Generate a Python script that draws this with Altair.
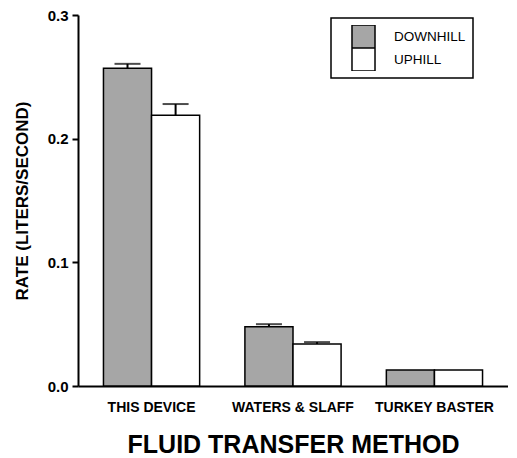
import altair as alt
import pandas as pd

methods = ["THIS DEVICE", "WATERS & SLAFF", "TURKEY BASTER"]
conditions = ["DOWNHILL", "UPHILL"]
downhill = [0.257, 0.048, 0.013]
uphill = [0.219, 0.034, 0.013]
downhill_err = [0.0035, 0.002, 0.0]
uphill_err = [0.009, 0.0015, 0.0]

rows = []
for i, m in enumerate(methods):
    rows.append({"method": m, "condition": "DOWNHILL", "rate": downhill[i], "err": downhill_err[i]})
    rows.append({"method": m, "condition": "UPHILL", "rate": uphill[i], "err": uphill_err[i]})
df = pd.DataFrame(rows)
df["upper"] = df["rate"] + df["err"]

FONT = "Liberation Sans"

x_enc = alt.X(
    "method:N",
    sort=methods,
    scale=alt.Scale(paddingInner=0.32, paddingOuter=0.18),
    axis=alt.Axis(
        title="FLUID TRANSFER METHOD",
        labelAngle=0,
        ticks=False,
        labelPadding=14,
        labelFontSize=14,
        labelFontWeight="bold",
        titleFontSize=25,
        titleFontWeight="bold",
        titlePadding=18,
        domainWidth=2,
    ),
)
xoff = alt.XOffset("condition:N", sort=conditions, scale=alt.Scale(paddingInner=0, paddingOuter=0))

y_enc = alt.Y(
    "rate:Q",
    scale=alt.Scale(domain=[0, 0.3], nice=False),
    axis=alt.Axis(
        title="RATE (LITERS/SECOND)",
        values=[0.0, 0.1, 0.2, 0.3],
        format=".1f",
        grid=False,
        tickSize=6,
        tickWidth=2,
        domainWidth=2,
        labelFontSize=15,
        labelFontWeight="bold",
        labelPadding=4,
        titleFontSize=17,
        titleFontWeight="bold",
        titlePadding=16,
    ),
)

bars = alt.Chart(df).mark_bar(stroke="black", strokeWidth=1.5).encode(
    x=x_enc,
    xOffset=xoff,
    y=y_enc,
    fill=alt.Fill(
        "condition:N",
        sort=conditions,
        scale=alt.Scale(domain=conditions, range=["#a6a6a6", "#ffffff"]),
        legend=alt.Legend(
            title=None,
            orient="none",
            legendX=253,
            legendY=3,
            symbolType="square",
            symbolSize=530,
            symbolStrokeColor="black",
            symbolStrokeWidth=1.5,
            symbolOffset=13,
            rowPadding=0,
            clipHeight=23,
            labelFontSize=13.5,
            labelOffset=18,
            padding=7,
            strokeColor="black",
            labelLimit=200,
        ),
    ),
)

err_df = df[df["err"] > 0]
rules = alt.Chart(err_df).mark_rule(color="black", strokeWidth=2).encode(
    x=alt.X("method:N", sort=methods),
    xOffset=alt.XOffset("condition:N", sort=conditions),
    y="rate:Q",
    y2="upper:Q",
)
caps = alt.Chart(err_df).mark_tick(color="black", thickness=2, size=26).encode(
    x=alt.X("method:N", sort=methods),
    xOffset=alt.XOffset("condition:N", sort=conditions),
    y="upper:Q",
)

chart = (
    alt.layer(bars, rules, caps)
    .properties(width=430, height=371, padding={"left": 5, "top": 0, "right": 0, "bottom": 0})
    .configure_view(stroke=None)
    .configure_axis(domainColor="black", tickColor="black", labelColor="black", titleColor="black",
                    labelFont=FONT, titleFont=FONT)
    .configure_legend(labelFont=FONT, labelColor="black", strokeWidth=1.5, rowPadding=0)
)

chart.save("out.html", embed_options={"renderer": "svg", "actions": False})
